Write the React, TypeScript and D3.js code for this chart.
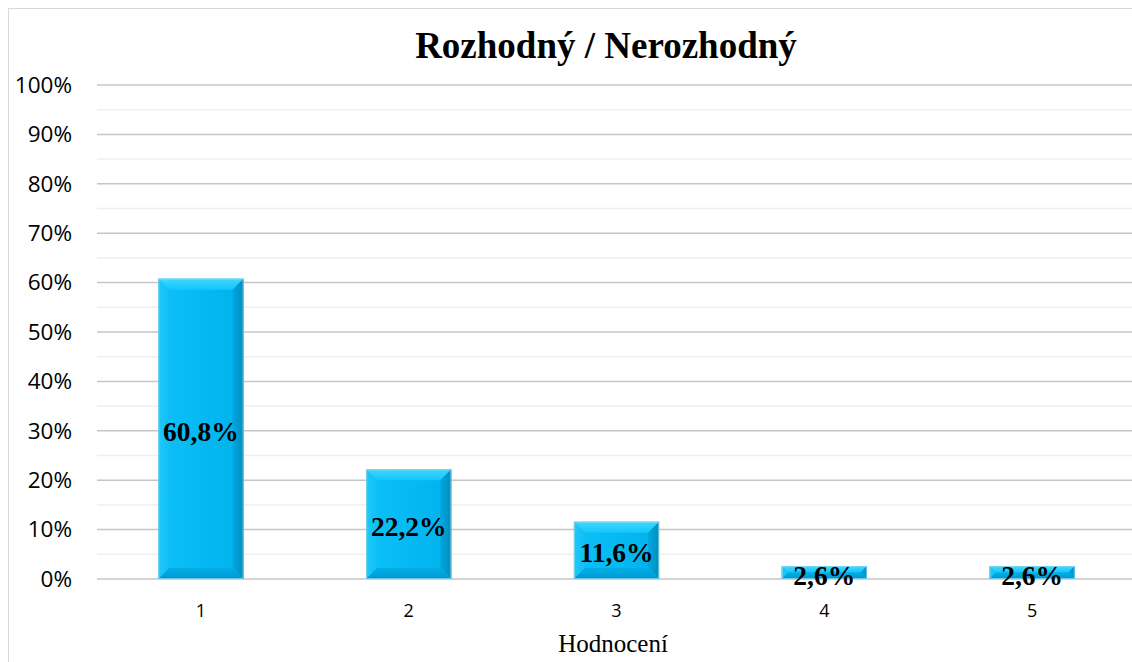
import React from "react";
import * as d3 from "d3";

const categories = ["1", "2", "3", "4", "5"];
const values = [0.608, 0.222, 0.116, 0.026, 0.026];
const valueLabels = ["60,8%", "22,2%", "11,6%", "2,6%", "2,6%"];
const yTicks = [0, 0.1, 0.2, 0.3, 0.4, 0.5, 0.6, 0.7, 0.8, 0.9, 1.0];
const yMinorTicks = [0.05, 0.15, 0.25, 0.35, 0.45, 0.55, 0.65, 0.75, 0.85, 0.95];
const title = "Rozhodný / Nerozhodný";
const xTitle = "Hodnocení";

const W = 1132;
const H = 662;
const plotLeft = 97;
const plotRight = 1136;
const plotTop = 85;
const plotBottom = 579;

export default function App() {
  const x = d3
    .scaleBand<string>()
    .domain(categories)
    .range([plotLeft, plotRight])
    .paddingInner(0.59)
    .paddingOuter(0.295);
  const y = d3.scaleLinear().domain([0, 1]).range([plotBottom, plotTop]);
  const fmt = d3.format(".0%");

  return (
    <svg
      width={W}
      height={H}
      style={{ position: "absolute", left: 0, top: 0, background: "#fff" }}
    >
      <defs>
        <linearGradient id="face" x1="0" y1="0" x2="1" y2="0">
          <stop offset="0" stopColor="#0CC0F8" />
          <stop offset="1" stopColor="#00B2EC" />
        </linearGradient>
        <linearGradient id="topB" x1="0" y1="0" x2="0" y2="1">
          <stop offset="0" stopColor="#40D8FF" />
          <stop offset="1" stopColor="#14C6FA" />
        </linearGradient>
        <linearGradient id="leftB" x1="0" y1="0" x2="1" y2="0">
          <stop offset="0" stopColor="#22C8FA" />
          <stop offset="1" stopColor="#0EBFF6" />
        </linearGradient>
        <linearGradient id="rightB" x1="0" y1="0" x2="1" y2="0">
          <stop offset="0" stopColor="#00A8E0" />
          <stop offset="1" stopColor="#008EBE" />
        </linearGradient>
        <linearGradient id="botB" x1="0" y1="0" x2="0" y2="1">
          <stop offset="0" stopColor="#00AEE8" />
          <stop offset="1" stopColor="#0098CE" />
        </linearGradient>
      </defs>

      {/* frame */}
      <line x1={8.5} y1={8} x2={8.5} y2={H} stroke="#D9D9D9" strokeWidth={1} />
      <line x1={8} y1={8.5} x2={W} y2={8.5} stroke="#D9D9D9" strokeWidth={1} />

      {/* minor grid */}
      {yMinorTicks.map((t) => (
        <line
          key={"m" + t}
          x1={plotLeft}
          x2={W}
          y1={y(t)}
          y2={y(t)}
          stroke="#EFEFEF"
          strokeWidth={1.5}
        />
      ))}
      {/* major grid */}
      {yTicks.map((t) => (
        <line
          key={"g" + t}
          x1={plotLeft}
          x2={W}
          y1={y(t)}
          y2={y(t)}
          stroke="#C6C6C6"
          strokeWidth={1.5}
        />
      ))}

      {/* y tick labels */}
      {yTicks.map((t) => (
        <text
          key={"yl" + t}
          x={72}
          y={y(t)}
          dy={7.8}
          textAnchor="end"
          fontFamily="'Open Sans', sans-serif"
          fontSize={22.5}
          fill="#000"
        >
          {fmt(t)}
        </text>
      ))}

      {/* bars */}
      {categories.map((c, i) => {
        const x0 = x(c)!;
        const w = x.bandwidth();
        const y0 = y(values[i]);
        const h = plotBottom - y0;
        const b = Math.min(11, h / 2, w / 2);
        const x1 = x0 + w;
        const y1 = plotBottom;
        return (
          <g key={c}>
            <rect x={x0} y={y0} width={w} height={h} fill="url(#face)" />
            <polygon
              points={`${x0},${y0} ${x1},${y0} ${x1 - b},${y0 + b} ${x0 + b},${y0 + b}`}
              fill="url(#topB)"
            />
            <polygon
              points={`${x0},${y0} ${x0 + b},${y0 + b} ${x0 + b},${y1 - b} ${x0},${y1}`}
              fill="url(#leftB)"
            />
            <polygon
              points={`${x1},${y0} ${x1},${y1} ${x1 - b},${y1 - b} ${x1 - b},${y0 + b}`}
              fill="url(#rightB)"
            />
            <polygon
              points={`${x0},${y1} ${x1},${y1} ${x1 - b},${y1 - b} ${x0 + b},${y1 - b}`}
              fill="url(#botB)"
            />
            <rect
              x={x0 + 0.5}
              y={y0 + 0.5}
              width={w - 1}
              height={h - 1}
              fill="none"
              stroke="#9ED6EA"
              strokeOpacity={0.7}
              strokeWidth={1}
            />
          </g>
        );
      })}

      {/* value labels */}
      {categories.map((c, i) => {
        const cx = x(c)! + x.bandwidth() / 2;
        const mid = (y(values[i]) + plotBottom) / 2;
        return (
          <text
            key={"vl" + c}
            x={cx}
            y={mid + 12}
            textAnchor="middle"
            fontFamily="'Liberation Serif', 'Times New Roman', serif"
            fontWeight="bold"
            fontSize={27.5}
            fill="#000"
          >
            {valueLabels[i]}
          </text>
        );
      })}

      {/* x tick labels */}
      {categories.map((c) => (
        <text
          key={"xl" + c}
          x={x(c)! + x.bandwidth() / 2}
          y={617}
          textAnchor="middle"
          fontFamily="'Open Sans', sans-serif"
          fontSize={18}
          fill="#000"
        >
          {c}
        </text>
      ))}

      {/* title */}
      <text
        x={606}
        y={58}
        textAnchor="middle"
        fontFamily="'Liberation Serif', 'Times New Roman', serif"
        fontWeight="bold"
        fontSize={37}
        fill="#000"
      >
        {title}
      </text>

      {/* x axis title */}
      <text
        x={613}
        y={652}
        textAnchor="middle"
        fontFamily="'Liberation Serif', 'Times New Roman', serif"
        fontSize={25}
        fill="#000"
      >
        {xTitle}
      </text>
    </svg>
  );
}
